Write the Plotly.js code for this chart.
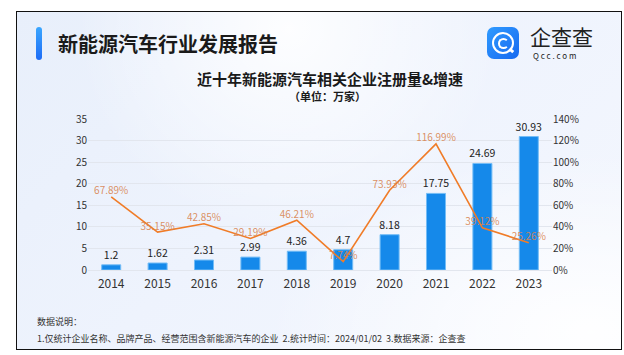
<!DOCTYPE html>
<html>
<head>
<meta charset="utf-8">
<script src="https://cdn.plot.ly/plotly-3.0.1.min.js"></script>
<style>
  html, body { margin: 0; padding: 0; background: #ffffff; }
  #wrap { position: relative; width: 624px; height: 355px; overflow: hidden; }
  #frame { position: absolute; left: 16px; top: 11px; width: 604px; height: 337px; border: 1px solid #111;
    background: radial-gradient(ellipse at 45% 5%, rgba(255,255,255,0.9) 0%, rgba(255,255,255,0) 45%),
                radial-gradient(ellipse at 95% 95%, rgba(255,255,255,0.95) 0%, rgba(255,255,255,0) 40%),
                linear-gradient(135deg, #E8EFFB 0%, #EEF3FD 45%, #F4F7FE 100%); }
  #accent { position: absolute; left: 36px; top: 27px; width: 6px; height: 33px; border-radius: 3px;
    background: linear-gradient(180deg, #3AA6FF 0%, #1D6CF6 100%); }
  #logo { position: absolute; left: 487px; top: 27px; width: 32px; height: 32px; border-radius: 7px;
    background: linear-gradient(135deg, #2F9BFF 0%, #1769F0 100%); }
  #logo .ring { position: absolute; left: 5px; top: 5px; width: 18px; height: 18px; border: 2.5px solid #fff; border-radius: 50%; }
  #logo .inner { position: absolute; left: 11px; top: 11px; width: 7px; height: 7px; border: 2px solid #fff; border-right-color: transparent; border-radius: 50%; }
  #logo .tail { position: absolute; left: 22px; top: 22px; width: 5px; height: 2.5px; background: #fff; transform: rotate(40deg); }
  #chart { position: absolute; left: 0; top: 0; width: 624px; height: 355px; }
</style>
</head>
<body>
<div id="wrap">
  <div id="frame"></div>
  <div id="accent"></div>
  <div id="logo"><div class="ring"></div><div class="inner"></div><div class="tail"></div></div>
  <div id="chart"></div>
</div>
<script>
const years = ['2014','2015','2016','2017','2018','2019','2020','2021','2022','2023'];
const registrations = [1.2, 1.62, 2.31, 2.99, 4.36, 4.7, 8.18, 17.75, 24.69, 30.93];
const growthRate = [67.89, 35.15, 42.85, 29.19, 46.21, 7.74, 73.93, 116.99, 39.12, 25.26];
const registrationLabels = ['1.2','1.62','2.31','2.99','4.36','4.7','8.18','17.75','24.69','30.93'];
const growthLabels = ['67.89%','35.15%','42.85%','29.19%','46.21%','7.74%','73.93%','116.99%','39.12%','25.26%'];

const W = 624, H = 355;
const px = x => x / W;
const py = y => 1 - y / H;
const FONT = '"Noto Sans CJK SC", "Noto Sans", sans-serif';

const bars = {
  type: 'bar', x: years, y: registrations, text: registrationLabels,
  textposition: 'outside', cliponaxis: false, constraintext: 'none',
  textfont: { size: 10.5, color: '#222', family: FONT },
  marker: { color: '#1589EA', line: { color: '#74BDF6', width: 1 } },
  width: 0.41, hoverinfo: 'x+y', showlegend: false
};
const line = {
  type: 'scatter', mode: 'lines+text', x: years, y: growthRate, yaxis: 'y2',
  text: growthLabels, textposition: 'top center', cliponaxis: false,
  textfont: { size: 10, color: 'rgba(216,132,80,0.9)', family: FONT },
  line: { color: '#F07C28', width: 1.6 }, showlegend: false
};

const layout = {
  width: W, height: H,
  margin: { l: 0, r: 0, t: 0, b: 0 },
  paper_bgcolor: 'rgba(0,0,0,0)', plot_bgcolor: 'rgba(0,0,0,0)',
  font: { family: FONT, color: '#333' },
  xaxis: {
    domain: [px(88), px(552)], type: 'category', showgrid: false, zeroline: false,
    showline: false, ticks: '', tickfont: { size: 12, color: '#333' }, ticklabelstandoff: 5
  },
  yaxis: {
    domain: [py(270), py(119)], range: [0, 35], dtick: 5, tick0: 0,
    gridcolor: '#E2E6EE', gridwidth: 1, zeroline: true, zerolinecolor: '#E2E6EE', zerolinewidth: 1,
    showline: false, ticks: '', tickfont: { size: 10, color: '#333' }
  },
  yaxis2: {
    overlaying: 'y', side: 'right', range: [0, 140], dtick: 20, tick0: 0, ticksuffix: '%',
    showgrid: false, zeroline: false, showline: false, ticks: '',
    tickfont: { size: 10, color: '#333' }
  },
  annotations: [
    { text: '<b>新能源汽车行业发展报告</b>', x: px(56), y: py(43), xref: 'paper', yref: 'paper',
      xanchor: 'left', yanchor: 'middle', showarrow: false, font: { size: 20, color: '#1a1a1a', family: FONT } },
    { text: '<b>近十年新能源汽车相关企业注册量&增速</b>', x: px(330), y: py(78), xref: 'paper', yref: 'paper',
      xanchor: 'center', yanchor: 'middle', showarrow: false, font: { size: 15, color: '#1a1a1a', family: FONT } },
    { text: '<b>（单位：万家）</b>', x: px(327), y: py(96), xref: 'paper', yref: 'paper',
      xanchor: 'center', yanchor: 'middle', showarrow: false, font: { size: 11, color: '#1a1a1a', family: FONT } },
    { text: '企查查', x: px(528), y: py(36), xref: 'paper', yref: 'paper',
      xanchor: 'left', yanchor: 'middle', showarrow: false, font: { size: 21, color: '#222', family: FONT } },
    { text: 'Q c c . c o m', x: px(531), y: py(55.5), xref: 'paper', yref: 'paper',
      xanchor: 'left', yanchor: 'middle', showarrow: false, font: { size: 8, color: '#222', family: FONT } },
    { text: '数据说明：', x: px(35), y: py(321), xref: 'paper', yref: 'paper',
      xanchor: 'left', yanchor: 'middle', showarrow: false, font: { size: 9, color: '#333', family: FONT } },
    { text: '1.仅统计企业名称、品牌产品、经营范围含新能源汽车的企业  2.统计时间：2024/01/02  3.数据来源：企查查',
      x: px(35), y: py(338), xref: 'paper', yref: 'paper',
      xanchor: 'left', yanchor: 'middle', showarrow: false, font: { size: 9, color: '#333', family: FONT } }
  ]
};

Plotly.newPlot('chart', [bars, line], layout, { displayModeBar: false, staticPlot: true });
</script>
</body>
</html>
